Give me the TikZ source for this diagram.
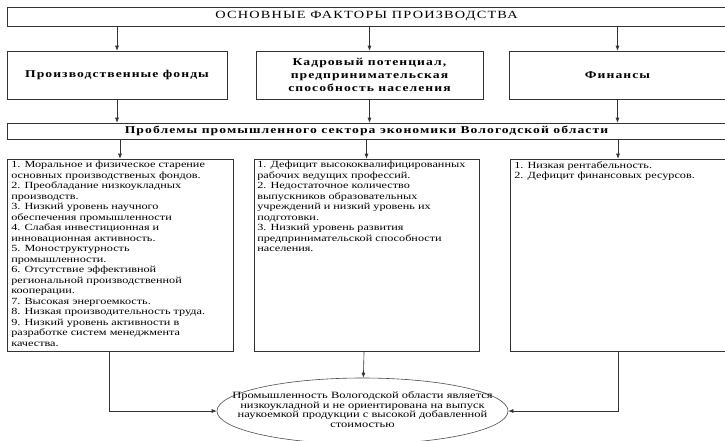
\documentclass[tikz,border=0pt]{standalone}
\usepackage{fontspec}
\setmainfont{Liberation Serif}[FakeStretch=1.3]
\usetikzlibrary{positioning,shapes.geometric,arrows.meta}

\begin{document}
\begin{tikzpicture}[x=1pt, y=-1pt, line width=0.6pt,
  every node/.style={inner sep=0pt},
  box/.style={draw=black!80, rectangle},
  head/.style={font=\fontsize{10.5}{13}\selectfont\bfseries\addfontfeature{LetterSpace=10}, align=center},
  item/.style={font=\fontsize{9.4}{10.5}\selectfont, align=left, anchor=north west},
  arr/.style={-{Latex[length=5pt,width=4pt]}, draw=black!80}]
\useasboundingbox (0,0) rectangle (725,440);
% factors
\node[box, minimum width=719, minimum height=19, font=\fontsize{11}{12}\selectfont\addfontfeature{LetterSpace=11}] (F0) at (366.5,16.5) {ОСНОВНЫЕ ФАКТОРЫ ПРОИЗВОДСТВА};
\node[box, head, minimum width=220, minimum height=48] (F1) at (117,75) {Производственные фонды};
\node[box, head, minimum width=227, minimum height=48] (F2) at (369.5,75) {Кадровый потенциал,\\предпринимательская\\способность населения};
\node[box, head, minimum width=217, minimum height=48] (F3) at (617.5,75) {Финансы};
% problems
\node[box, head, minimum width=719, minimum height=16] (P0) at (366.5,131) {Проблемы промышленного сектора экономики Вологодской области};
\node[box, minimum width=226, minimum height=192] (P1) at (120,255) {};
\node[box, minimum width=225, minimum height=192] (P2) at (366.5,255) {};
\node[box, minimum width=216, minimum height=192] (P3) at (618,255) {};
\node[item] (T1) at (11,161) {1. Моральное и физическое старение\\основных производственых фондов.\\2. Преобладание низкоукладных\\производств.\\3. Низкий уровень научного\\обеспечения промышленности\\4. Слабая инвестиционная и\\инновационная активность.\\5. Моноструктурность\\промышленности.\\6. Отсутствие эффективной\\региональной производственной\\кооперации.\\7. Высокая энергоемкость.\\8. Низкая производительность труда.\\9. Низкий уровень активности в\\разработке систем менеджмента\\качества.};
\node[item] (T2) at (257,161) {1. Дефицит высококвалифицированных\\рабочих ведущих профессий.\\2. Недостаточное количество\\выпускников образовательных\\учреждений и низкий уровень их\\подготовки.\\3. Низкий уровень развития\\предпринимательской способности\\населения.};
\node[item] (T3) at (514,161) {1. Низкая рентабельность.\\2. Дефицит финансовых ресурсов.};
% result
\node[draw=black!70, ellipse, minimum width=291, minimum height=66, font=\fontsize{9.6}{9.8}\selectfont] (R) at (362.5,411) {\makebox[0pt]{\begin{tabular}{@{}c@{}}Промышленность Вологодской области является\\низкоукладной и не ориентирована на выпуск\\наукоемкой продукции с высокой добавленной\\стоимостью\end{tabular}}};
\draw[arr] (F0.south -| F1) -- (F1);
\draw[arr] (F0.south -| F2) -- (F2);
\draw[arr] (F0.south -| F3) -- (F3);
\draw[arr] (F1) -- (P0.north -| F1);
\draw[arr] (F2) -- (P0.north -| F2);
\draw[arr] (F3) -- (P0.north -| F3);
\draw[arr] (P0.south -| P1) -- (P1);
\draw[arr] (P0.south -| P2) -- (P2);
\draw[arr] (P0.south -| P3) -- (P3);
\draw[arr] ([xshift=-11]P1.south) |- (R.west);
\draw[arr] (P2) -- (R);
\draw[arr] (P3) |- (R.east);
\end{tikzpicture}
\end{document}
